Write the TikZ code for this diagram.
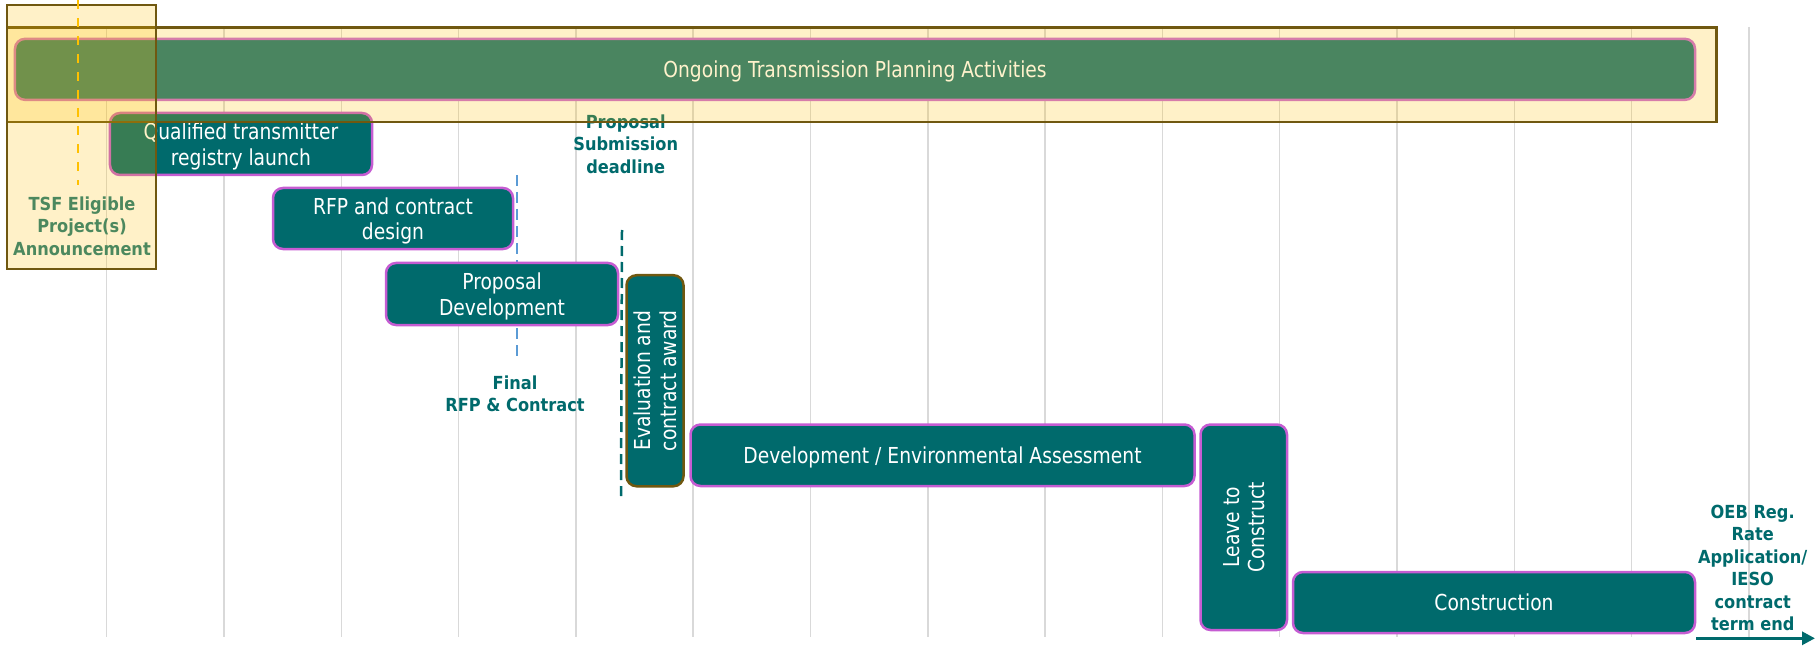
\documentclass[tikz,border=0pt]{standalone}
\usepackage{fontspec}
\setmainfont{DejaVu Sans}[FakeStretch=0.85]
\newfontfamily\lblfont{DejaVu Sans}[FakeStretch=0.9]
\usetikzlibrary{arrows.meta}
\definecolor{tealbox}{RGB}{0,106,108}
\definecolor{magbdr}{RGB}{197,92,210}
\definecolor{olivebdr}{RGB}{112,88,16}
\definecolor{greenbox}{RGB}{74,133,96}
\definecolor{pinkbdr}{RGB}{214,124,170}
\definecolor{creamtxt}{RGB}{255,242,204}
\definecolor{tsfgreen}{RGB}{76,136,94}
\definecolor{gold}{RGB}{255,192,0}
\definecolor{blueln}{RGB}{91,155,213}
\definecolor{gridgray}{RGB}{217,217,217}
\tikzset{
  gridln/.style={draw=gridgray, line width=1.5bp},
  taskbox/.style={draw=magbdr, fill=tealbox, line width=2.5bp, rounded corners=10bp,
    text=white, font=\fontsize{22bp}{25.5bp}\selectfont, align=center, inner sep=0pt, text depth=0pt},
  lbl/.style={text=tealbox, font={\lblfont\bfseries\fontsize{18bp}{22.4bp}\selectfont}, align=center, inner sep=0pt},
  hilite/.style={draw=olivebdr, line width=2.5bp, fill=gold, fill opacity=0.216, inner sep=0pt},
}
\begin{document}
\begin{tikzpicture}[x=1bp,y=-1bp]
\useasboundingbox (0,0) rectangle (1815,646);
% grid
\foreach \i in {0,...,14} {
  \draw[gridln] ({106.7+117.3*\i},27) -- ({106.7+117.3*\i},637);
}
% milestone dashed lines
\coordinate (bl1) at (517.3,175);
\coordinate (bl2) at (517.3,360);
\draw[blueln, line width=2bp, dash pattern=on 11bp off 6bp] (bl1) -- (bl2);
\coordinate (tl1) at (622,230);
\coordinate (tl2) at (621,500);
\draw[tealbox, line width=2.5bp, dash pattern=on 10bp off 6bp] (tl1) -- (tl2);
% task boxes
\node[taskbox, minimum width=262bp, minimum height=62bp] (qual) at (241,144) {Qualified transmitter\\registry launch};
\node[taskbox, minimum width=240bp, minimum height=61bp] (rfp) at (393,218.5) {RFP and contract\\design};
\node[taskbox, minimum width=232bp, minimum height=62bp] (prop) at (502,294) {Proposal\\Development};
\node[taskbox, draw=olivebdr, rotate=90, minimum width=211bp, minimum height=57bp] (eval) at (655,380.75) {Evaluation and\\contract award};
\node[taskbox, minimum width=504bp, minimum height=61.5bp] (devenv) at (942.5,455.25) {Development / Environmental Assessment};
\node[taskbox, rotate=90, minimum width=205.5bp, minimum height=86.5bp] (leave) at (1243.75,527.25) {Leave to\\Construct};
\node[taskbox, minimum width=402bp, minimum height=61bp] (constr) at (1494,602.5) {Construction};
% labels
\node[lbl] (subm) at (625.7,144) {Proposal\\Submission\\deadline};
\node[lbl] (final) at (515,394) {Final\\RFP \& Contract};
\node[lbl] (oeb) at (1752.7,568) {OEB Reg.\\Rate\\Application/\\IESO\\contract\\term end};
% arrow
\coordinate (arS) at (1696,638.3);
\coordinate (arE) at (1815,638.3);
\draw[tealbox, line width=3bp, -{Triangle[length=13bp,width=13bp]}] (arS) -- (arE);
% ongoing band
\node[hilite, minimum width=1709.7bp, minimum height=94.7bp] (band) at (861.85,74.65) {};
\node[taskbox, fill=greenbox, draw=pinkbdr, text=creamtxt, minimum width=1680bp, minimum height=61bp] (ongoing) at (855,69.35) {Ongoing Transmission Planning Activities};
% TSF highlight
\node[hilite, minimum width=149bp, minimum height=264bp] (tsf) at (81.5,137) {};
\coordinate (yl1) at (77.7,0);
\coordinate (yl2) at (77.7,185);
\draw[gold, line width=2.2bp, dash pattern=on 9bp off 9bp] (yl1) -- (yl2);
\node[lbl, text=tsfgreen] (tsflbl) at (82,226) {TSF Eligible\\Project(s)\\Announcement};
\end{tikzpicture}
\end{document}
